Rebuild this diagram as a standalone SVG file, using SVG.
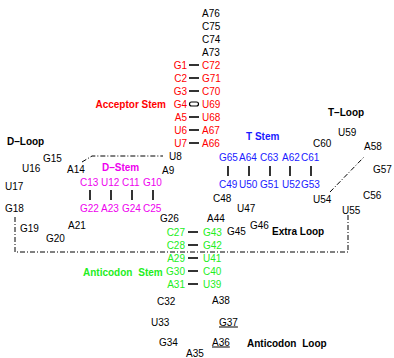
<svg xmlns="http://www.w3.org/2000/svg" width="394" height="358" viewBox="0 0 394 358">
<style>
text{font-family:"Liberation Sans",Arial,sans-serif;font-size:10px;fill:#000}
.r text,text.r{fill:#ff0000}
.m text,text.m{fill:#ee00ee}
.b text,text.b{fill:#1a1aff}
.g text,text.g{fill:#22ee22}
.lbl{font-weight:bold}
.e{text-anchor:end}
.u{text-decoration:underline}
.bar{stroke:#000;stroke-width:1.6;fill:none}
.dd{stroke:#000;stroke-width:1;fill:none;stroke-dasharray:5 2 1 2}
</style>
<rect width="394" height="358" fill="#fff"/>
<g id="connectors">
<line class="bar" x1="189" y1="65" x2="199" y2="65"/>
<line class="bar" x1="189" y1="78" x2="199" y2="78"/>
<line class="bar" x1="189" y1="91" x2="199" y2="91"/>
<rect x="189.5" y="102" width="9" height="4" rx="2" stroke="#000" stroke-width="1.2" fill="none"/>
<line class="bar" x1="189" y1="117" x2="199" y2="117"/>
<line class="bar" x1="189" y1="130" x2="199" y2="130"/>
<line class="bar" x1="189" y1="143" x2="199" y2="143"/>
<line class="bar" x1="90" y1="190" x2="90" y2="200"/>
<line class="bar" x1="111" y1="190" x2="111" y2="200"/>
<line class="bar" x1="132" y1="190" x2="132" y2="200"/>
<line class="bar" x1="153" y1="190" x2="153" y2="200"/>
<line class="bar" x1="228" y1="166" x2="228" y2="176"/>
<line class="bar" x1="249" y1="166" x2="249" y2="176"/>
<line class="bar" x1="270" y1="166" x2="270" y2="176"/>
<line class="bar" x1="290" y1="166" x2="290" y2="176"/>
<line class="bar" x1="311" y1="166" x2="311" y2="176"/>
<line class="bar" x1="188" y1="232" x2="198" y2="232"/>
<line class="bar" x1="188" y1="245" x2="198" y2="245"/>
<line class="bar" x1="188" y1="258" x2="198" y2="258"/>
<line class="bar" x1="188" y1="271" x2="198" y2="271"/>
<line class="bar" x1="188" y1="284" x2="198" y2="284"/>
<path class="dd" d="M82,162 L92,156 H163"/>
<path class="dd" d="M15,217 V252 H348 V215"/>
<path class="dd" d="M330,192 L364,157"/>
</g>
<g id="labels">
<text class="r lbl e" x="166" y="107.5">Acceptor Stem</text>
<text class="lbl" x="7" y="144.5">D–Loop</text>
<text class="m lbl" x="102" y="170.5">D–Stem</text>
<text class="b lbl" x="246" y="139.5">T Stem</text>
<text class="lbl" x="328" y="115.5">T–Loop</text>
<text class="lbl" x="272" y="234.5">Extra Loop</text>
<text class="g lbl" x="83" y="275.5" word-spacing="3">Anticodon Stem</text>
<text class="lbl" x="247" y="346.5" word-spacing="3">Anticodon Loop</text>
</g>
<g id="nodes">
<g id="n76"><text x="202" y="16.5">A76</text></g>
<g id="n75"><text x="202" y="29.5">C75</text></g>
<g id="n74"><text x="202" y="42.5">C74</text></g>
<g id="n73"><text x="202" y="55.5">A73</text></g>
<g id="n1" class="r"><text class="e" x="187" y="68.5">G1</text></g>
<g id="n2" class="r"><text class="e" x="187" y="81.5">C2</text></g>
<g id="n3" class="r"><text class="e" x="187" y="94.5">G3</text></g>
<g id="n4" class="r"><text class="e" x="187" y="107.5">G4</text></g>
<g id="n5" class="r"><text class="e" x="187" y="120.5">A5</text></g>
<g id="n6" class="r"><text class="e" x="187" y="133.5">U6</text></g>
<g id="n7" class="r"><text class="e" x="187" y="146.5">U7</text></g>
<g id="n72" class="r"><text x="202" y="68.5">C72</text></g>
<g id="n71" class="r"><text x="202" y="81.5">G71</text></g>
<g id="n70" class="r"><text x="202" y="94.5">C70</text></g>
<g id="n69" class="r"><text x="202" y="107.5">U69</text></g>
<g id="n68" class="r"><text x="202" y="120.5">U68</text></g>
<g id="n67" class="r"><text x="202" y="133.5">A67</text></g>
<g id="n66" class="r"><text x="202" y="146.5">A66</text></g>
<g id="n8"><text x="169" y="159.5">U8</text></g>
<g id="n9"><text x="162" y="173.5">A9</text></g>
<g id="n14"><text x="67" y="172.5">A14</text></g>
<g id="n15"><text x="43" y="161.5">G15</text></g>
<g id="n16"><text x="22" y="171.5">U16</text></g>
<g id="n17"><text x="5" y="189.5">U17</text></g>
<g id="n18"><text x="5" y="211.5">G18</text></g>
<g id="n19"><text x="20" y="231.5">G19</text></g>
<g id="n20"><text x="46" y="241.5">G20</text></g>
<g id="n21"><text x="68" y="228.5">A21</text></g>
<g id="n13" class="m"><text x="80" y="185.5">C13</text></g>
<g id="n12" class="m"><text x="101" y="185.5">U12</text></g>
<g id="n11" class="m"><text x="122" y="185.5">C11</text></g>
<g id="n10" class="m"><text x="143" y="185.5">G10</text></g>
<g id="n22" class="m"><text x="80" y="211.5">G22</text></g>
<g id="n23" class="m"><text x="101" y="211.5">A23</text></g>
<g id="n24" class="m"><text x="122" y="211.5">G24</text></g>
<g id="n25" class="m"><text x="143" y="211.5">C25</text></g>
<g id="n26"><text x="160" y="221.5">G26</text></g>
<g id="n27" class="g"><text class="e" x="185" y="235.5">C27</text></g>
<g id="n28" class="g"><text class="e" x="185" y="248.5">C28</text></g>
<g id="n29" class="g"><text class="e" x="185" y="261.5">A29</text></g>
<g id="n30" class="g"><text class="e" x="185" y="274.5">G30</text></g>
<g id="n31" class="g"><text class="e" x="185" y="287.5">A31</text></g>
<g id="n43" class="g"><text x="203" y="235.5">G43</text></g>
<g id="n42" class="g"><text x="203" y="248.5">G42</text></g>
<g id="n41" class="g"><text x="203" y="261.5">U41</text></g>
<g id="n40" class="g"><text x="203" y="274.5">C40</text></g>
<g id="n39" class="g"><text x="203" y="287.5">U39</text></g>
<g id="n32"><text x="157" y="304.5">C32</text></g>
<g id="n33"><text x="151" y="325.5">U33</text></g>
<g id="n34"><text x="159" y="345.5">G34</text></g>
<g id="n35"><text x="186" y="356.5">A35</text></g>
<g id="n36"><text class="u" x="212" y="345.5">A36</text></g>
<g id="n37"><text class="u" x="219" y="325.5">G37</text></g>
<g id="n38"><text x="212" y="303.5">A38</text></g>
<g id="n44"><text x="207" y="221.5">A44</text></g>
<g id="n45"><text x="227" y="234.5">G45</text></g>
<g id="n46"><text x="250" y="228.5">G46</text></g>
<g id="n47"><text x="237" y="211.5">U47</text></g>
<g id="n48"><text x="213" y="201.5">C48</text></g>
<g id="n65" class="b"><text x="219" y="160.5">G65</text></g>
<g id="n64" class="b"><text x="239" y="160.5">A64</text></g>
<g id="n63" class="b"><text x="260" y="160.5">C63</text></g>
<g id="n62" class="b"><text x="282" y="160.5">A62</text></g>
<g id="n61" class="b"><text x="301" y="160.5">C61</text></g>
<g id="n49" class="b"><text x="219" y="187.5">C49</text></g>
<g id="n50" class="b"><text x="239" y="187.5">U50</text></g>
<g id="n51" class="b"><text x="260" y="187.5">G51</text></g>
<g id="n52" class="b"><text x="282" y="187.5">U52</text></g>
<g id="n53" class="b"><text x="301" y="187.5">G53</text></g>
<g id="n54"><text x="313" y="202.5">U54</text></g>
<g id="n55"><text x="342" y="213.5">U55</text></g>
<g id="n56"><text x="363" y="198.5">C56</text></g>
<g id="n57"><text x="373" y="172.5">G57</text></g>
<g id="n58"><text x="364" y="149.5">A58</text></g>
<g id="n59"><text x="338" y="135.5">U59</text></g>
<g id="n60"><text x="313" y="146.5">C60</text></g>
</g>
</svg>
